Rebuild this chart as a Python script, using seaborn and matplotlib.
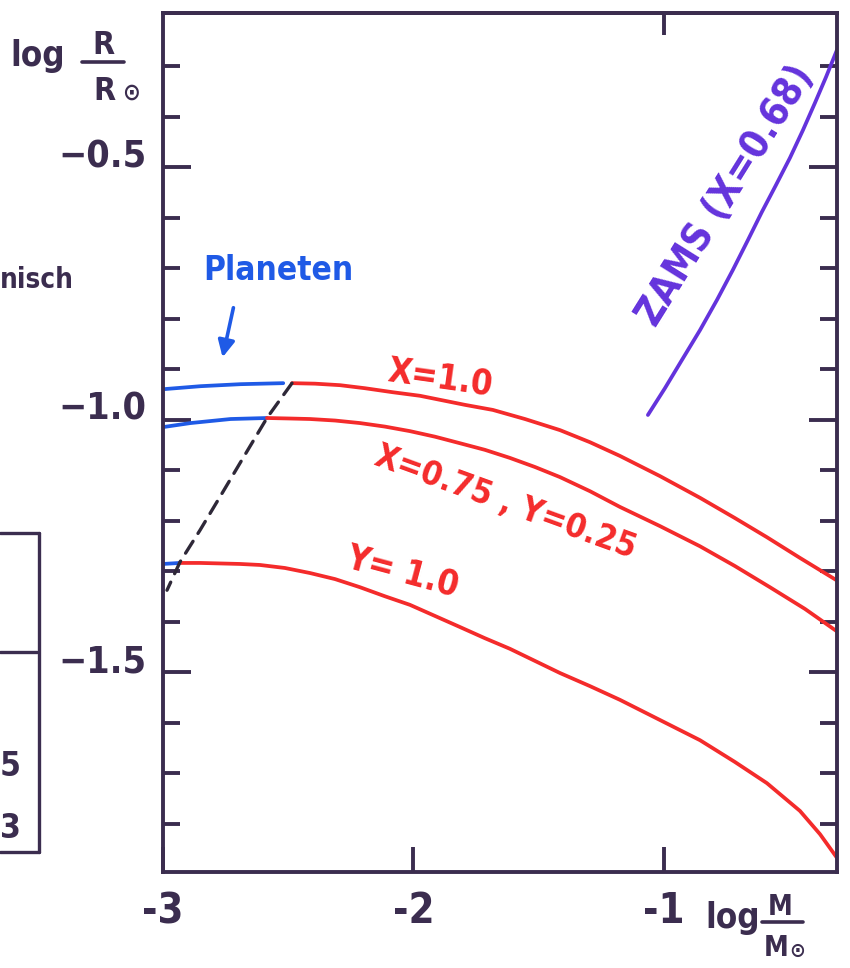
import matplotlib
matplotlib.use('Agg')
import matplotlib.pyplot as plt
import seaborn as sns
import pandas as pd
from matplotlib.lines import Line2D
from matplotlib.patches import FancyArrowPatch

# ---------------- data: log M/Msun  vs  log R/Rsun ----------------
# X = 1.0 (pure hydrogen)
x10_planet = [-3.00, -2.85, -2.69, -2.52]
y10_planet = [-0.940, -0.934, -0.930, -0.928]
x10_star = [-2.485, -2.393, -2.293, -2.194, -2.082, -1.974, -1.894, -1.794, -1.683, -1.555,
            -1.415, -1.295, -1.176, -1.016, -0.856, -0.717, -0.589, -0.457, -0.305]
y10_star = [-0.928, -0.929, -0.932, -0.938, -0.946, -0.953, -0.961, -0.971, -0.981, -0.999,
            -1.021, -1.045, -1.072, -1.112, -1.155, -1.195, -1.233, -1.274, -1.320]

# X = 0.75, Y = 0.25
x075_planet = [-3.00, -2.89, -2.73, -2.585]
y075_planet = [-1.015, -1.007, -0.999, -0.997]
x075_star = [-2.585, -2.493, -2.413, -2.313, -2.214, -2.114, -2.014, -1.914, -1.814, -1.715, -1.615,
             -1.515, -1.415, -1.295, -1.176, -1.016, -0.856, -0.717, -0.577, -0.437, -0.305]
y075_star = [-0.997, -0.998, -0.999, -1.002, -1.007, -1.014, -1.023, -1.034, -1.047, -1.060, -1.076,
             -1.094, -1.114, -1.142, -1.173, -1.211, -1.251, -1.290, -1.332, -1.375, -1.421]

# Y = 1.0 (pure helium)
xY1_planet = [-3.00, -2.932]
yY1_planet = [-1.286, -1.284]
xY1_star = [-2.932, -2.852, -2.772, -2.693, -2.613, -2.513, -2.413, -2.313, -2.214, -2.114, -2.014,
            -1.914, -1.814, -1.715, -1.615, -1.515, -1.415, -1.295, -1.176, -1.016, -0.856, -0.717,
            -0.589, -0.517, -0.457, -0.377, -0.309]
yY1_star = [-1.284, -1.284, -1.285, -1.286, -1.288, -1.294, -1.304, -1.316, -1.332, -1.350, -1.367,
            -1.389, -1.411, -1.433, -1.454, -1.478, -1.502, -1.528, -1.555, -1.595, -1.635, -1.678,
            -1.720, -1.750, -1.775, -1.821, -1.868]

# boundary planets / stars (dashed)
x_border = [-2.485, -2.533, -2.585, -2.673, -2.764, -2.852, -2.932, -2.984]
y_border = [-0.928, -0.961, -0.997, -1.070, -1.146, -1.219, -1.282, -1.338]

# ZAMS (X = 0.68)
x_zams = [-1.064, -0.996, -0.928, -0.856, -0.788, -0.725, -0.665, -0.609, -0.553, -0.497,
          -0.445, -0.397, -0.353, -0.309]
y_zams = [-0.991, -0.938, -0.882, -0.823, -0.763, -0.704, -0.645, -0.589, -0.536, -0.482,
          -0.427, -0.373, -0.322, -0.268]

# axes ticks / labels
xtick_major = [-3, -2, -1]
xtick_labels = ['-3', '-2', '-1']
ytick_major = [-1.5, -1.0, -0.5]
ytick_labels = ['\u22121.5', '\u22121.0', '\u22120.5']
ytick_minor = [-1.8, -1.7, -1.6, -1.4, -1.3, -1.2, -1.1, -0.9, -0.8, -0.7, -0.6, -0.4, -0.3]
curve_labels = ['X=1.0', 'X=0.75 , Y=0.25', 'Y= 1.0']
zams_label = 'ZAMS (X=0.68)'
planet_label = 'Planeten'

# ---------------- style ----------------
sns.set_theme(style='white')
plt.rcParams['font.family'] = ['DejaVu Sans']
plt.rcParams['font.weight'] = 'bold'
plt.rcParams['font.stretch'] = 'condensed'
plt.rcParams['mathtext.fontset'] = 'dejavusans'
plt.rcParams['mathtext.default'] = 'bf'

INK = '#3b2d4f'
RED = '#f42b2b'
BLUE = '#1f5ae6'
PURPLE = '#6433dc'

W, H = 850, 968
def F(px, py):
    return (px / W, 1 - py / H)

fig = plt.figure(figsize=(8.5, 9.68), dpi=100)
fig.patch.set_facecolor('white')
ax = fig.add_axes([163 / W, 1 - 872 / H, (837 - 163) / W, (872 - 13) / H])
ax.set_facecolor('white')

def seg(x, y, color, lw=2.7, **kw):
    df = pd.DataFrame({'logM': x, 'logR': y})
    sns.lineplot(data=df, x='logM', y='logR', ax=ax, color=color, sort=False,
                 estimator=None, lw=lw, solid_capstyle='round', solid_joinstyle='round', **kw)

seg(x10_planet, y10_planet, BLUE)
seg(x075_planet, y075_planet, BLUE)
seg(xY1_planet, yY1_planet, BLUE)
seg(x10_star, y10_star, RED)
seg(x075_star, y075_star, RED)
seg(xY1_star, yY1_star, RED)
seg(x_zams, y_zams, PURPLE)
seg(x_border, y_border, '#2e2838', lw=2.4, linestyle=(0, (4.2, 2.8)), dash_capstyle='round')

ax.set_xlim(-3.0, -0.309)
ax.set_ylim(-1.896, -0.195)
ax.set_xlabel('')
ax.set_ylabel('')

for s in ax.spines.values():
    s.set_color(INK)
    s.set_linewidth(2.8)

ax.set_xticks(xtick_major, xtick_labels)
ax.set_yticks(ytick_major, ytick_labels)
ax.set_yticks(ytick_minor, minor=True)
ax.tick_params(axis='y', which='major', direction='in', length=20, width=2.8,
               left=True, right=True, color=INK, labelsize=27, labelcolor=INK, pad=12)
ax.tick_params(axis='y', which='minor', direction='in', length=12.5, width=2.8,
               left=True, right=True, color=INK)
ax.tick_params(axis='x', which='major', direction='in', length=18, width=2.8,
               bottom=True, top=False, color=INK, labelsize=30, labelcolor=INK, pad=13)
for lab in ax.get_yticklabels():
    lab.set_verticalalignment('baseline')

sec = ax.secondary_xaxis('top')
sec.set_xticks([-1])
sec.tick_params(direction='in', length=16, width=2.8, color=INK, labeltop=False)
sec.spines['top'].set_color(INK)
sec.spines['top'].set_linewidth(2.8)

# ---------------- curve labels ----------------
ax.text(*F(440, 378), curve_labels[0], transform=fig.transFigure, color=RED, fontsize=25,
        rotation=-8, rotation_mode='anchor', ha='center', va='center')
ax.text(*F(505, 502), curve_labels[1], transform=fig.transFigure, color=RED, fontsize=24,
        rotation=-20, rotation_mode='anchor', ha='center', va='center')
ax.text(*F(403, 572), curve_labels[2], transform=fig.transFigure, color=RED, fontsize=25,
        rotation=-15, rotation_mode='anchor', ha='center', va='center')
ax.text(*F(726, 196), zams_label, transform=fig.transFigure, color=PURPLE, fontsize=28,
        rotation=58, rotation_mode='anchor', ha='center', va='center')
fig.text(*F(278, 271), planet_label, color=BLUE, fontsize=24, ha='center', va='center')
fig.add_artist(FancyArrowPatch(F(234, 305), F(222, 360), transform=fig.transFigure,
                               arrowstyle='-|>,head_length=10,head_width=5', color=BLUE, lw=2.6))

# ---------------- axis titles ----------------
fig.text(*F(38, 66), 'log', color=INK, fontsize=25, ha='center', va='baseline')
fig.text(*F(103, 54), 'R', color=INK, fontsize=23, ha='center', va='baseline')
fig.add_artist(Line2D([82 / W, 124 / W], [1 - 62 / H] * 2, color=INK, lw=2.6, solid_capstyle='round'))
fig.text(*F(104, 100), 'R', color=INK, fontsize=23, ha='center', va='baseline')
fig.text(*F(131, 100), '$\\odot$', color=INK, fontsize=17, ha='center', va='baseline')

fig.text(*F(733, 928), 'log', color=INK, fontsize=25, ha='center', va='baseline')
fig.text(*F(780, 915), 'M', color=INK, fontsize=20, ha='center', va='baseline')
fig.add_artist(Line2D([762 / W, 803 / W], [1 - 922 / H] * 2, color=INK, lw=2.6, solid_capstyle='round'))
fig.text(*F(776, 956), 'M', color=INK, fontsize=20, ha='center', va='baseline')
fig.text(*F(797, 957), '$\\odot$', color=INK, fontsize=15, ha='center', va='baseline')

# ---------------- fragments of neighbouring figure ----------------
fig.text(*F(0, 288), 'nisch', color=INK, fontsize=20, ha='left', va='baseline')
for xs, ys in [([0, 39], [533, 533]), ([39, 39], [533, 852]), ([0, 37], [652, 652]), ([0, 39], [852, 852])]:
    fig.add_artist(Line2D([v / W for v in xs], [1 - v / H for v in ys], color=INK, lw=2.4,
                          solid_capstyle='round'))
fig.text(*F(0, 776), '5', color=INK, fontsize=24, ha='left', va='baseline')
fig.text(*F(0, 838), '3', color=INK, fontsize=24, ha='left', va='baseline')

fig.savefig('out.png', dpi=100, facecolor='white')
